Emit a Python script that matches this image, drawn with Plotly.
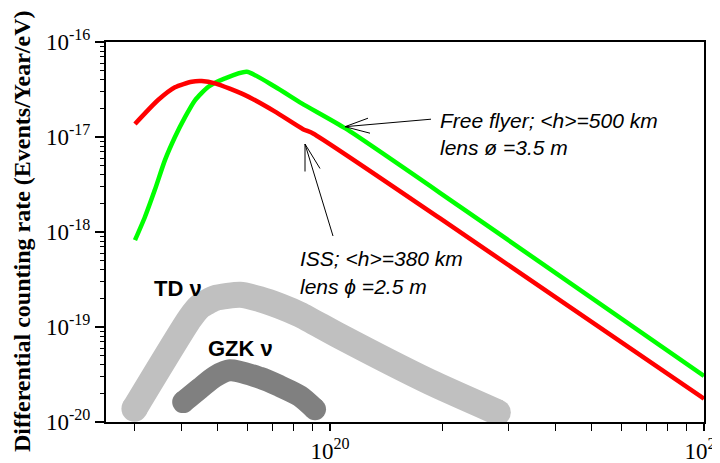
import plotly.graph_objects as go

# ---------------- data ----------------
red_E = [3.01e19, 3.47e19, 3.85e19, 4.27e19, 4.54e19, 4.93e19, 5.93e19, 7.13e19, 8.47e19, 9.01e19, 1.97e20, 1.0e21]
red_R = [1.37e-17, 2.45e-17, 3.34e-17, 3.82e-17, 3.88e-17, 3.67e-17, 2.76e-17, 1.85e-17, 1.21e-17, 1.09e-17, 1.39e-18, 1.76e-20]

green_E = [3.01e19, 3.20e19, 3.40e19, 3.62e19, 3.85e19, 4.10e19, 4.36e19, 4.73e19, 5.24e19, 5.99e19, 7.13e19, 8.40e19, 1.10e20, 2.23e20, 1.0e21]
green_R = [8.20e-19, 1.44e-18, 2.76e-18, 5.71e-18, 1.00e-17, 1.63e-17, 2.45e-17, 3.38e-17, 4.14e-17, 4.86e-17, 3.38e-17, 2.26e-17, 1.23e-17, 1.84e-18, 3.05e-20]

td_E = [3.00e19, 4.22e19, 4.49e19, 4.93e19, 5.75e19, 6.50e19, 7.35e19, 8.31e19, 1.06e20, 1.85e20, 2.81e20]
td_R = [1.38e-20, 1.23e-19, 1.65e-19, 2.01e-19, 2.18e-19, 1.96e-19, 1.66e-19, 1.35e-19, 8.02e-20, 2.63e-20, 1.26e-20]

gzk_E = [4.05e19, 4.49e19, 4.93e19, 5.40e19, 6.50e19, 7.35e19, 8.31e19, 9.12e19]
gzk_R = [1.62e-20, 2.26e-20, 3.02e-20, 3.50e-20, 2.92e-20, 2.38e-20, 1.87e-20, 1.36e-20]

x_major = [1e20, 1e21]
x_major_text = ["10<sup>20</sup>", "10<sup>21</sup>"]
x_minor = [3e19, 4e19, 5e19, 6e19, 7e19, 8e19, 9e19,
           2e20, 3e20, 4e20, 5e20, 6e20, 7e20, 8e20, 9e20]
y_major = [1e-20, 1e-19, 1e-18, 1e-17, 1e-16]
y_major_text = ["10<sup>-20</sup>", "10<sup>-19</sup>", "10<sup>-18</sup>", "10<sup>-17</sup>", "10<sup>-16</sup>"]
y_minor = [m * 10.0 ** e for e in range(-20, -16) for m in range(2, 10)]

# ---------------- layout geometry ----------------
# the page body adds an 8px offset, so the figure is 8px smaller and margins shifted
OFF = 8
W, H = 720 - OFF, 463 - OFF
PL, PR, PT, PB = 106, 704, 42, 422          # plot area in page pixels
L, T = PL - OFF, PT - OFF
PW, PH = PR - PL, PB - PT
R, B = W - L - PW, H - T - PH


def px(xp):
    return (xp - PL) / PW


def py(yp):
    return (PB - yp) / PH


fig = go.Figure()

TD_COL = "#c0c0c0"
GZK_COL = "#808080"

fig.add_trace(go.Scatter(x=td_E, y=td_R, mode="lines",
                         line=dict(color=TD_COL, width=26, shape="spline", smoothing=0.55),
                         hoverinfo="skip", showlegend=False))
fig.add_trace(go.Scatter(x=[td_E[0], td_E[-1]], y=[td_R[0], td_R[-1]], mode="markers",
                         marker=dict(color=TD_COL, size=26), hoverinfo="skip", showlegend=False))
fig.add_trace(go.Scatter(x=gzk_E, y=gzk_R, mode="lines",
                         line=dict(color=GZK_COL, width=22, shape="spline", smoothing=0.8),
                         hoverinfo="skip", showlegend=False))
fig.add_trace(go.Scatter(x=[gzk_E[0], gzk_E[-1]], y=[gzk_R[0], gzk_R[-1]], mode="markers",
                         marker=dict(color=GZK_COL, size=22), hoverinfo="skip", showlegend=False))
fig.add_trace(go.Scatter(x=green_E, y=green_R, mode="lines",
                         line=dict(color="#00ff00", width=4.5, shape="spline", smoothing=0.6),
                         name="Free flyer", showlegend=False))
fig.add_trace(go.Scatter(x=red_E, y=red_R, mode="lines",
                         line=dict(color="#ff0000", width=4.5, shape="spline", smoothing=0.6),
                         name="ISS", showlegend=False))

tick_font = dict(family="Times New Roman, Liberation Serif, serif", size=23, color="black")

fig.update_xaxes(type="log", range=[19.4011, 21], showline=True, linewidth=2, linecolor="black",
                 mirror=True, showgrid=False, zeroline=False,
                 tickmode="array", tickvals=x_major, ticktext=x_major_text,
                 ticks="outside", ticklen=7, tickwidth=1.5, tickcolor="black", tickfont=tick_font,
                 ticklabeloverflow="allow",
                 minor=dict(tickmode="array", tickvals=x_minor, ticks="outside", ticklen=7,
                            tickwidth=1, tickcolor="black", showgrid=False))
fig.update_yaxes(type="log", range=[-20, -16], showline=True, linewidth=2, linecolor="black",
                 mirror=True, showgrid=False, zeroline=False,
                 tickmode="array", tickvals=y_major, ticktext=y_major_text,
                 ticks="outside", ticklen=9, tickwidth=1.5, tickcolor="black", tickfont=tick_font,
                 ticklabeloverflow="allow",
                 minor=dict(tickmode="array", tickvals=y_minor, ticks="outside", ticklen=4,
                            tickwidth=1, tickcolor="black", showgrid=False))

ann = []
# y-axis title
ann.append(dict(xref="paper", yref="paper", x=px(21.5), y=py(231.5), xanchor="center", yanchor="middle",
                text="<b>Differential counting rate (Events/Year/eV)</b>", textangle=-90, showarrow=False,
                font=dict(family="Times New Roman, Liberation Serif, serif", size=24, color="black")))

lab_font = dict(family="Arial, Liberation Sans, sans-serif", size=21, color="black")
for txt, xl, yc in [("<i>Free flyer; &lt;h&gt;=500 km</i>", 438, 121),
                    ("<i>lens ø =3.5 m</i>", 438, 147.5),
                    ("<i>ISS; &lt;h&gt;=380 km</i>", 298, 258.5),
                    ("<i>lens ϕ =2.5 m</i>", 298, 286)]:
    ann.append(dict(xref="paper", yref="paper", x=px(xl), y=py(yc), xanchor="left", yanchor="middle",
                    text=txt, showarrow=False, font=lab_font))

band_font = dict(family="Arial, Liberation Sans, sans-serif", size=22, color="black")
ann.append(dict(xref="paper", yref="paper", x=px(178), y=py(288), xanchor="center", yanchor="middle",
                text="<b>TD ν</b>", showarrow=False, font=band_font))
ann.append(dict(xref="paper", yref="paper", x=px(240), y=py(348.5), xanchor="center", yanchor="middle",
                text="<b>GZK ν</b>", showarrow=False, font=band_font))

# arrows (page pixel positions): shaft + open barbs, drawn as thin lines
shapes = []
arrows = [((345, 126.7), [(431, 119.2), (368, 118.2), (370, 133.2)]),
          ((305, 144.0), [(333, 236.0), (305, 171.5), (320, 168.5)])]
for (hx, hy), ends in arrows:
    for ex, ey in ends:
        shapes.append(dict(type="line", xref="paper", yref="paper",
                           x0=px(ex), y0=py(ey), x1=px(hx), y1=py(hy),
                           line=dict(color="black", width=1)))

fig.update_layout(width=W, height=H, margin=dict(l=L, r=R, t=T, b=B, autoexpand=False),
                  paper_bgcolor="white", plot_bgcolor="white", annotations=ann, shapes=shapes,
                  showlegend=False)

fig.write_html("out.html")
